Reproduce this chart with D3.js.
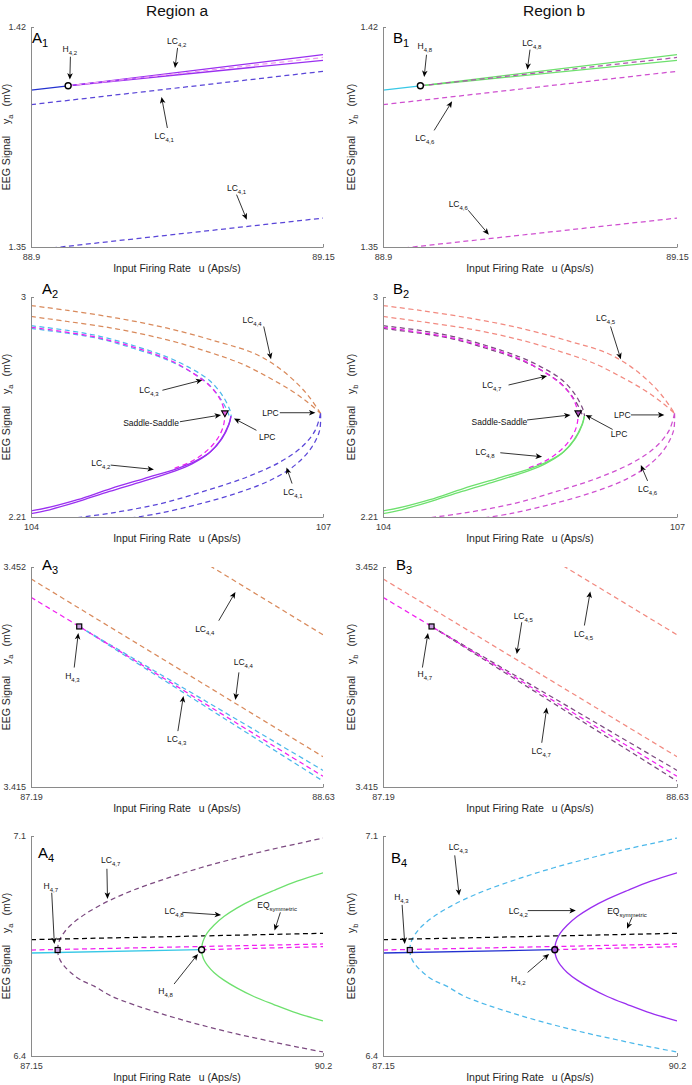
<!DOCTYPE html>
<html><head><meta charset="utf-8">
<script src="https://cdn.jsdelivr.net/npm/d3@7"></script>
<style>
body{margin:0;background:#fff;}
svg text{font-family:"Liberation Sans",Arial,Helvetica,sans-serif;}
</style></head><body>
<svg id="chart" width="692" height="1085"></svg>
<script>
// ---------- tick labels / domains ----------
const TITLES = ["Region a", "Region b"];
const X_DOMAINS = [[88.9, 89.15], [104, 107], [87.19, 88.63], [87.15, 90.2]];
const Y_DOMAINS = [[1.35, 1.42], [2.21, 3], [3.415, 3.452], [6.4, 7.1]];
const X_TICKS = [["88.9", "89.15"], ["104", "107"], ["87.19", "88.63"], ["87.15", "90.2"]];
const Y_TICKS = [["1.35", "1.42"], ["2.21", "3"], ["3.415", "3.452"], ["6.4", "7.1"]];

// ---------- row 1 (A1 / B1) ----------
const r1EqStable = [[88.9, 1.3999], [88.9318, 1.4013]];
const r1CycleUpper = [[88.9318, 1.4013], [89.15, 1.4112]];
const r1CycleLower = [[88.9318, 1.4013], [89.15, 1.4094]];
const r1EqUnstable = [[88.9318, 1.4013], [89.15, 1.4103]];
const r1OuterUpper = [[88.9, 1.3953], [89.15, 1.4059]];
const r1OuterLower = [[88.918, 1.3497], [89.15, 1.3592]];
const r1Hopf = [88.9318, 1.4013];

// ---------- row 2 (A2 / B2) ----------
const r2FoldUpperA = [[104, 2.969], [104.376, 2.952], [104.888, 2.924], [105.401, 2.888], [105.913, 2.840], [106.289, 2.798], [106.528, 2.750], [106.733, 2.690], [106.870, 2.636], [106.975, 2.582]];
const r2FoldUpperB = [[104, 2.930], [104.376, 2.912], [104.888, 2.885], [105.401, 2.846], [105.811, 2.804], [106.152, 2.762], [106.426, 2.714], [106.665, 2.666], [106.836, 2.624], [106.975, 2.582]];
const r2FoldLowerA = [[106.975, 2.582], [106.921, 2.522], [106.784, 2.462], [106.562, 2.408], [106.221, 2.354], [105.811, 2.306], [105.332, 2.258], [104.820, 2.224], [104.393, 2.204]];
const r2FoldLowerB = [[106.975, 2.582], [106.966, 2.522], [106.887, 2.462], [106.733, 2.402], [106.494, 2.348], [106.152, 2.300], [105.742, 2.258], [105.298, 2.222], [104.974, 2.204]];
const r2InnerA = [[104, 2.897], [104.376, 2.880], [104.717, 2.858], [105.059, 2.825], [105.401, 2.784], [105.640, 2.744], [105.828, 2.702], [105.964, 2.648], [106.043, 2.594], [106.057, 2.572]];
const r2InnerB = [[104, 2.887], [104.376, 2.870], [104.717, 2.849], [105.059, 2.815], [105.401, 2.774], [105.623, 2.735], [105.804, 2.693], [105.937, 2.640], [106.016, 2.592], [106.036, 2.572]];
const r2Unstable = [[104, 2.891], [104.717, 2.852], [105.401, 2.777], [105.675, 2.724], [105.845, 2.678], [105.947, 2.630], [105.988, 2.582], [105.974, 2.534], [105.906, 2.486], [105.794, 2.444], [105.640, 2.408], [105.469, 2.384]];
const r2StableA = [[106.055, 2.572], [106.036, 2.544], [105.964, 2.492], [105.845, 2.444], [105.674, 2.408], [105.503, 2.384], [105.162, 2.348], [104.820, 2.312], [104.478, 2.272], [104.205, 2.246], [104, 2.232]];
const r2StableB = [[106.055, 2.572], [106.029, 2.540], [105.947, 2.486], [105.824, 2.438], [105.654, 2.401], [105.483, 2.376], [105.148, 2.338], [104.806, 2.302], [104.465, 2.263], [104.191, 2.236], [104, 2.222]];
const r2SaddleSaddle = [105.992, 2.581];

// ---------- row 3 (A3 / B3) ----------
const r3OuterLong = [[87.19, 3.4500], [88.63, 3.4201]];
const r3OuterShort = [[88.0724, 3.4522], [88.63, 3.4406]];
const r3Unstable = [[87.19, 3.4469], [87.4278, 3.4420], [88.63, 3.4168]];
const r3CycleA = [[87.4278, 3.4420], [88.63, 3.4178]];
const r3CycleB = [[87.4278, 3.4420], [88.63, 3.4160]];
const r3Hopf = [87.4278, 3.4420];

// ---------- row 4 (A4 / B4) ----------
const r4LeftU = [87.4279, 87.4348, 87.4557, 87.4974, 87.5668, 87.6711, 87.8100, 87.9837, 88.2269, 88.5742, 88.9216, 89.2690, 89.6164, 89.9638, 90.2];
const r4LeftUpperY = [6.7372, 6.7553, 6.7734, 6.7936, 6.8170, 6.8425, 6.8691, 6.8968, 6.9287, 6.9659, 6.9989, 7.0276, 7.0542, 7.0776, 7.0936];
const r4LeftLowerY = [6.7372, 6.7213, 6.7042, 6.6862, 6.6649, 6.6415, 6.6223, 6.5915, 6.5628, 6.5287, 6.4989, 6.4723, 6.4489, 6.4266, 6.4128];
const r4RightU = [88.9320, 88.9390, 88.9564, 88.9911, 89.0606, 89.1648, 89.3038, 89.4775, 89.6859, 89.9290, 90.2];
const r4RightUpperY = [6.7383, 6.7564, 6.7723, 6.7915, 6.8159, 6.8436, 6.8713, 6.8989, 6.9266, 6.9564, 6.9830];
const r4RightLowerY = [6.7383, 6.7213, 6.7064, 6.6894, 6.6660, 6.6415, 6.6160, 6.5894, 6.5638, 6.5362, 6.5117];
const r4EqSymmetric = [[87.15, 6.7702], [90.2, 6.7904]];
const r4EqStable = [[87.15, 6.7277], [88.932, 6.7383]];
const r4EqUnstableA = [[87.15, 6.7372], [90.2, 6.7564]];
const r4EqUnstableB = [[88.932, 6.7383], [90.2, 6.7479]];
const r4HopfLeft = [87.4279, 6.7372];
const r4HopfRight = [88.932, 6.7383];

const zip = (u, v) => u.map((d, i) => [d, v[i]]);
const r4LeftUpper = zip(r4LeftU, r4LeftUpperY);
const r4LeftLower = zip(r4LeftU, r4LeftLowerY);
const r4RightUpper = zip(r4RightU, r4RightUpperY);
const r4RightLower = zip(r4RightU, r4RightLowerY);

// ---------- styling ----------
const C = {
  blue: "#2432d0", cyan: "#38c8e6", purple: "#9a2ff0", slate: "#5a46d8",
  orange: "#d98a5c", cyanD: "#4cb8ea", magenta: "#f020f0", salmon: "#f28a80",
  pinkD: "#cf50d0", mauve: "#7c4a80", green: "#6ee06e", black: "#000"
};
const colLeft = [31, 383], colRight = [323, 677], rowTop = [27, 297, 567, 836], plotH = 220;

const S = (d, c, dash) => ({d, c, dash: !!dash});

const panels = [
  {row: 0, col: 0, lab: "A", sub: "1", labPos: [1, 16], ylab: "a",
   curves: [S(r1OuterUpper, C.slate, 1), S(r1OuterLower, C.slate, 1), S(r1EqStable, C.blue), S(r1CycleUpper, C.purple), S(r1CycleLower, C.purple), S(r1EqUnstable, "#f09cf0", 1)],
   markers: [{t: "circle", p: r1Hopf, f: "#fff"}],
   notes: [
     {m: "H", s: "4,2", t: [0.133, 0.900], a: [0.135, 0.865, 0.133, 0.761]},
     {m: "LC", s: "4,2", t: [0.499, 0.935], a: [0.502, 0.905, 0.493, 0.814]},
     {m: "LC", s: "4,1", t: [0.456, 0.503], a: [0.467, 0.541, 0.447, 0.682]},
     {m: "LC", s: "4,1", t: [0.704, 0.268], a: [0.704, 0.238, 0.739, 0.124]}]},
  {row: 0, col: 1, lab: "B", sub: "1", labPos: [10, 16], ylab: "b",
   curves: [S(r1OuterUpper, C.pinkD, 1), S(r1OuterLower, C.pinkD, 1), S(r1EqStable, C.cyan), S(r1CycleUpper, C.green), S(r1CycleLower, C.green), S(r1EqUnstable, "#b050b0", 1)],
   markers: [{t: "circle", p: r1Hopf, f: "#fff"}],
   notes: [
     {m: "H", s: "4,8", t: [0.142, 0.915], a: [0.148, 0.874, 0.140, 0.773]},
     {m: "LC", s: "4,8", t: [0.506, 0.927], a: [0.500, 0.897, 0.491, 0.806]},
     {m: "LC", s: "4,6", t: [0.142, 0.495], a: [0.174, 0.530, 0.235, 0.662]},
     {m: "LC", s: "4,6", t: [0.256, 0.197], a: [0.290, 0.167, 0.360, 0.056]}]},
  {row: 1, col: 0, lab: "A", sub: "2", labPos: [11, -3], ylab: "a",
   curves: [S(r2FoldUpperA, C.orange, 1), S(r2FoldUpperB, C.orange, 1), S(r2FoldLowerA, C.slate, 1), S(r2FoldLowerB, C.slate, 1),
            S(r2InnerA, C.cyanD, 1), S(r2InnerB, C.cyanD, 1), S(r2Unstable, C.magenta, 1), S(r2StableA, C.purple), S(r2StableB, C.purple)],
   markers: [{t: "tri", p: r2SaddleSaddle, f: "#e060e0"}],
   notes: [
     {m: "LC", s: "4,4", t: [0.757, 0.897], a: [0.797, 0.866, 0.822, 0.717]},
     {m: "LC", s: "4,3", t: [0.404, 0.578], a: [0.450, 0.576, 0.587, 0.623]},
     {m: "Saddle-Saddle", s: "", t: [0.411, 0.426], a: [0.510, 0.433, 0.651, 0.464]},
     {m: "LPC", s: "", t: [0.809, 0.365], a: [0.772, 0.394, 0.695, 0.448]},
     {m: "LPC", s: "", t: [0.820, 0.471], a: [0.852, 0.474, 0.974, 0.474]},
     {m: "LC", s: "4,2", t: [0.239, 0.246], a: [0.273, 0.236, 0.421, 0.216]},
     {m: "LC", s: "4,1", t: [0.897, 0.114], a: [0.894, 0.152, 0.875, 0.225]}]},
  {row: 1, col: 1, lab: "B", sub: "2", labPos: [10, -3], ylab: "b",
   curves: [S(r2FoldUpperA, C.salmon, 1), S(r2FoldUpperB, C.salmon, 1), S(r2FoldLowerA, C.pinkD, 1), S(r2FoldLowerB, C.pinkD, 1),
            S(r2InnerA, C.mauve, 1), S(r2InnerB, C.mauve, 1), S(r2Unstable, C.magenta, 1), S(r2StableA, C.green), S(r2StableB, C.green)],
   markers: [{t: "tri", p: r2SaddleSaddle, f: "#b050c0"}],
   notes: [
     {m: "LC", s: "4,5", t: [0.757, 0.904], a: [0.774, 0.866, 0.809, 0.717]},
     {m: "LC", s: "4,7", t: [0.370, 0.600], a: [0.427, 0.600, 0.558, 0.641]},
     {m: "Saddle-Saddle", s: "", t: [0.396, 0.433], a: [0.490, 0.441, 0.638, 0.464]},
     {m: "LPC", s: "", t: [0.803, 0.377], a: [0.781, 0.398, 0.689, 0.464]},
     {m: "LPC", s: "", t: [0.814, 0.464], a: [0.843, 0.464, 0.957, 0.464]},
     {m: "LC", s: "4,8", t: [0.347, 0.296], a: [0.399, 0.292, 0.541, 0.274]},
     {m: "LC", s: "4,6", t: [0.900, 0.129], a: [0.900, 0.164, 0.877, 0.236]}]},
  {row: 2, col: 0, lab: "A", sub: "3", labPos: [11, 3], ylab: "a",
   curves: [S(r3OuterLong, C.orange, 1), S(r3OuterShort, C.orange, 1), S(r3CycleA, C.cyanD, 1), S(r3CycleB, C.cyanD, 1), S(r3Unstable, C.magenta, 1)],
   markers: [{t: "square", p: r3Hopf, f: "#c9a0e0"}],
   notes: [
     {m: "LC", s: "4,4", t: [0.595, 0.718], a: [0.643, 0.756, 0.700, 0.886]},
     {m: "LC", s: "4,4", t: [0.727, 0.566], a: [0.712, 0.521, 0.700, 0.396]},
     {m: "H", s: "4,3", t: [0.142, 0.505], a: [0.148, 0.543, 0.162, 0.700]},
     {m: "LC", s: "4,3", t: [0.499, 0.216], a: [0.503, 0.254, 0.522, 0.414]}]},
  {row: 2, col: 1, lab: "B", sub: "3", labPos: [13, 3], ylab: "b",
   curves: [S(r3OuterLong, C.salmon, 1), S(r3OuterShort, C.salmon, 1), S(r3CycleA, C.mauve, 1), S(r3CycleB, C.mauve, 1), S(r3Unstable, C.magenta, 1)],
   markers: [{t: "square", p: r3Hopf, f: "#c9a0e0"}],
   notes: [
     {m: "LC", s: "4,5", t: [0.477, 0.779], a: [0.472, 0.749, 0.455, 0.604]},
     {m: "LC", s: "4,5", t: [0.682, 0.696], a: [0.685, 0.734, 0.705, 0.889]},
     {m: "H", s: "4,7", t: [0.142, 0.513], a: [0.134, 0.543, 0.153, 0.700]},
     {m: "LC", s: "4,7", t: [0.538, 0.163], a: [0.540, 0.201, 0.557, 0.361]}]},
  {row: 3, col: 0, lab: "A", sub: "4", labPos: [7, 22], ylab: "a",
   curves: [S(r4LeftUpper, C.mauve, 1), S(r4LeftLower, C.mauve, 1), S(r4EqSymmetric, C.black, 1), S(r4EqUnstableA, C.magenta, 1), S(r4EqUnstableB, C.magenta, 1),
            S(r4EqStable, C.cyan), S(r4RightUpper, C.green), S(r4RightLower, C.green)],
   markers: [{t: "square", p: r4HopfLeft, f: "#c9a0e0"}, {t: "circle", p: r4HopfRight, f: "#f4f4f4"}],
   notes: [
     {m: "LC", s: "4,7", t: [0.273, 0.889], a: [0.260, 0.851, 0.262, 0.714]},
     {m: "H", s: "4,7", t: [0.068, 0.775], a: [0.071, 0.742, 0.080, 0.509]},
     {m: "LC", s: "4,8", t: [0.490, 0.661], a: [0.518, 0.653, 0.651, 0.641]},
     {m: "EQ", s: "symmetric", t: [0.843, 0.687], a: [0.854, 0.653, 0.834, 0.570]},
     {m: "H", s: "4,8", t: [0.461, 0.296], a: [0.490, 0.327, 0.572, 0.464]}]},
  {row: 3, col: 1, lab: "B", sub: "4", labPos: [8, 27], ylab: "b",
   curves: [S(r4LeftUpper, C.cyanD, 1), S(r4LeftLower, C.cyanD, 1), S(r4EqSymmetric, C.black, 1), S(r4EqUnstableA, C.magenta, 1), S(r4EqUnstableB, C.magenta, 1),
            S(r4EqStable, C.blue), S(r4RightUpper, C.purple), S(r4RightLower, C.purple)],
   markers: [{t: "square", p: r4HopfLeft, f: "#c9a0e0"}, {t: "circle", p: r4HopfRight, f: "#a35ad8"}],
   notes: [
     {m: "LC", s: "4,3", t: [0.256, 0.950], a: [0.244, 0.912, 0.259, 0.729]},
     {m: "H", s: "4,3", t: [0.0625, 0.722], a: [0.065, 0.687, 0.074, 0.509]},
     {m: "LC", s: "4,2", t: [0.460, 0.661], a: [0.492, 0.661, 0.656, 0.661]},
     {m: "EQ", s: "symmetric", t: [0.830, 0.661], a: [0.847, 0.631, 0.830, 0.578]},
     {m: "H", s: "4,2", t: [0.460, 0.350], a: [0.492, 0.380, 0.565, 0.464]}]}
];

const svg = d3.select("#chart");
const defs = svg.append("defs");

// titles
svg.append("text").attr("x", 177).attr("y", 16).attr("text-anchor", "middle").attr("font-size", 15.5).attr("fill", "#111").text(TITLES[0]);
svg.append("text").attr("x", 554).attr("y", 16).attr("text-anchor", "middle").attr("font-size", 15.5).attr("fill", "#111").text(TITLES[1]);

function arrow(g, x1, y1, x2, y2) {
  const ang = Math.atan2(y2 - y1, x2 - x1);
  const L = 6.5, W = 2.8, N = 4.8;
  const ux = Math.cos(ang), uy = Math.sin(ang), px = -uy, py = ux;
  g.append("line").attr("x1", x1).attr("y1", y1).attr("x2", x2 - ux * N).attr("y2", y2 - uy * N)
    .attr("stroke", "#000").attr("stroke-width", 0.8);
  const p = [[x2, y2], [x2 - ux * L + px * W, y2 - uy * L + py * W], [x2 - ux * N, y2 - uy * N], [x2 - ux * L - px * W, y2 - uy * L - py * W]];
  g.append("path").attr("d", "M" + p.map(d => d.join(",")).join("L") + "Z").attr("fill", "#000");
}

panels.forEach((p, idx) => {
  const L = colLeft[p.col], R = colRight[p.col], T = rowTop[p.row], B = T + plotH;
  const xd = X_DOMAINS[p.row], yd = Y_DOMAINS[p.row];
  const x = d3.scaleLinear().domain(xd).range([L, R]);
  const y = d3.scaleLinear().domain(yd).range([B, T]);
  const g = svg.append("g");
  const clipId = "clip" + idx;
  defs.append("clipPath").attr("id", clipId).append("rect").attr("x", L).attr("y", T).attr("width", R - L).attr("height", B - T);

  // curves
  const line = d3.line().x(d => x(d[0])).y(d => y(d[1])).curve(d3.curveCatmullRom.alpha(0.5));
  const cg = g.append("g").attr("clip-path", `url(#${clipId})`);
  p.curves.forEach(c => {
    cg.append("path").datum(c.d).attr("d", line).attr("fill", "none")
      .attr("stroke", c.c).attr("stroke-width", c.dash ? 1.25 : 1.3)
      .attr("stroke-dasharray", c.dash ? "5,3.5" : null);
  });

  // axes
  const xAxis = d3.axisBottom(x).tickValues(xd).tickFormat((d, i) => X_TICKS[p.row][i]).tickSizeInner(-3).tickSizeOuter(0).tickPadding(7);
  const yAxis = d3.axisLeft(y).tickValues(yd).tickFormat((d, i) => Y_TICKS[p.row][i]).tickSizeInner(-3).tickSizeOuter(0).tickPadding(5);
  const gx = g.append("g").attr("transform", `translate(0,${B})`).call(xAxis);
  const gy = g.append("g").attr("transform", `translate(${L},0)`).call(yAxis);
  [gx, gy].forEach(a => {
    a.select(".domain").attr("stroke", "#8a8a8a");
    a.selectAll(".tick line").attr("stroke", "#8a8a8a");
    a.selectAll(".tick text").attr("fill", "#3a3a3a").attr("font-size", 9).attr("font-family", '"Liberation Sans",Arial,sans-serif');
  });

  // axis labels
  const cx = (L + R) / 2;
  const xl = g.append("text").attr("x", cx).attr("y", B + 25).attr("text-anchor", "middle").attr("font-size", 10.5).attr("fill", "#262626");
  xl.append("tspan").text("Input Firing Rate");
  xl.append("tspan").attr("dx", 8).text("u (Aps/s)");
  const cy = (T + B) / 2;
  const lx = p.col === 0 ? 10 : 355;
  const yl = g.append("text").attr("transform", `translate(${lx},${cy}) rotate(-90)`).attr("text-anchor", "middle").attr("font-size", 10.5).attr("fill", "#262626");
  yl.append("tspan").text("EEG Signal");
  yl.append("tspan").attr("dx", 12).text("y");
  yl.append("tspan").attr("dy", 3).attr("font-size", 7.5).text(p.ylab);
  yl.append("tspan").attr("dy", -3).attr("dx", 8).text("(mV)");

  // panel label
  const pl = g.append("text").attr("x", L + p.labPos[0]).attr("y", T + p.labPos[1]).attr("font-size", 15).attr("fill", "#000");
  pl.append("tspan").text(p.lab);
  pl.append("tspan").attr("dy", 4).attr("font-size", 11).text(p.sub);

  // markers
  p.markers.forEach(m => {
    const mx = x(m.p[0]), my = y(m.p[1]);
    if (m.t === "circle") {
      g.append("circle").attr("cx", mx).attr("cy", my).attr("r", 3).attr("fill", m.f).attr("stroke", "#000").attr("stroke-width", 1.4);
    } else if (m.t === "square") {
      g.append("rect").attr("x", mx - 2.5).attr("y", my - 2.5).attr("width", 5).attr("height", 5).attr("fill", m.f).attr("stroke", "#000").attr("stroke-width", 1.2);
    } else {
      g.append("path").attr("d", `M${mx - 3.3},${my - 2.8}L${mx + 3.3},${my - 2.8}L${mx},${my + 3}Z`).attr("fill", m.f).attr("stroke", "#000").attr("stroke-width", 1.1);
    }
  });

  // annotations (positions in normalized axes units, mapped through the scales)
  const fx = f => x(xd[0] + f * (xd[1] - xd[0]));
  const fy = f => y(yd[0] + f * (yd[1] - yd[0]));
  p.notes.forEach(n => {
    arrow(g, fx(n.a[0]), fy(n.a[1]), fx(n.a[2]), fy(n.a[3]));
    const t = g.append("text").attr("x", fx(n.t[0])).attr("y", fy(n.t[1]) + 3).attr("text-anchor", "middle").attr("font-size", 8.5).attr("fill", "#111");
    t.append("tspan").text(n.m);
    if (n.s) t.append("tspan").attr("dy", 3).attr("font-size", 6).text(n.s);
  });
});
</script></body></html>
